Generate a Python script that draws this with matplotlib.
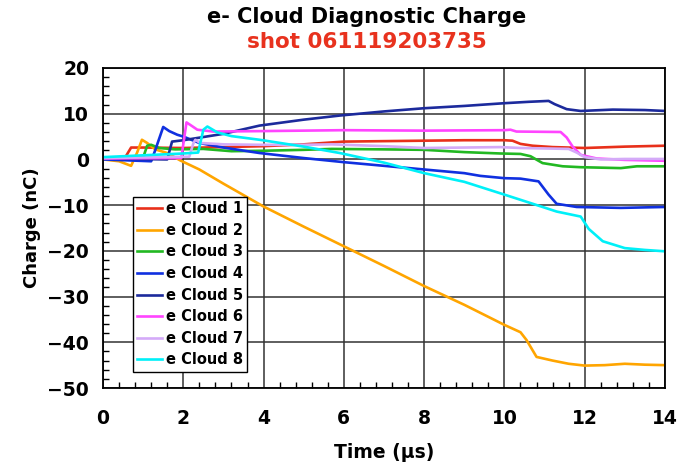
import matplotlib
matplotlib.use("Agg")
import matplotlib.pyplot as plt
from matplotlib.ticker import MultipleLocator

# time (us) / charge (nC) samples, one pair per cloud
t1 = [0, 0.55, 0.7, 1.0, 2.0, 3.0, 4.0, 5.0, 6.0, 7.0, 8.0, 9.0, 10.0, 10.2, 10.4, 10.7, 11.2, 12.0, 13.0, 14.0]
q1 = [0.3, 0.4, 2.6, 2.6, 2.5, 2.7, 2.9, 3.3, 3.9, 4.0, 4.1, 4.2, 4.2, 4.1, 3.4, 3.0, 2.7, 2.5, 2.8, 3.0]

t2 = [0, 0.4, 0.7, 0.85, 0.97, 1.1, 1.3, 1.6, 1.92, 2.4, 3.0, 4.0, 5.0, 6.0, 7.0, 8.0, 9.0, 10.0,
      10.2, 10.4, 10.55, 10.8, 11.2, 11.6, 12.0, 12.5, 13.0, 13.5, 14.0]
q2 = [0.0, -0.4, -1.4, 1.5, 4.3, 3.6, 2.2, 1.4, -0.2, -2.2, -5.3, -10.3, -14.7, -19.0, -23.3, -27.7, -31.8, -36.2,
      -37.0, -37.8, -39.5, -43.2, -44.0, -44.7, -45.1, -45.0, -44.7, -44.9, -45.0]

t3 = [0, 1.0, 1.1, 1.2, 1.4, 1.8, 2.5, 3.2, 4.0, 5.0, 5.7, 7.0, 8.0, 9.0, 9.9, 10.4, 10.65, 10.95,
      11.45, 11.9, 12.9, 13.3, 14.0]
q3 = [0.3, 0.4, 3.0, 3.2, 2.5, 2.2, 2.3, 1.8, 1.9, 2.1, 2.3, 2.2, 2.1, 1.6, 1.3, 1.2, 0.7, -0.8,
      -1.5, -1.7, -1.9, -1.5, -1.5]

t4 = [0, 1.2, 1.3, 1.5, 1.65, 1.85, 2.0, 2.4, 3.0, 3.9, 5.0, 6.0, 7.0, 8.0, 9.0, 9.4, 10.0, 10.4,
      10.85, 11.1, 11.3, 11.8, 12.9, 14.0]
q4 = [0.0, -0.4, 2.0, 7.1, 6.2, 5.4, 5.0, 3.6, 2.6, 1.4, 0.3, -0.6, -1.4, -2.2, -3.0, -3.6, -4.1, -4.2,
      -4.8, -7.7, -9.7, -10.4, -10.6, -10.4]

t5 = [0, 1.6, 1.72, 2.0, 3.0, 3.9, 5.0, 5.9, 7.0, 8.0, 9.0, 10.0, 10.6, 11.1, 11.25, 11.55, 11.9,
      12.7, 13.5, 14.0]
q5 = [0.2, 0.0, 3.9, 4.2, 5.6, 7.4, 8.7, 9.6, 10.5, 11.2, 11.7, 12.3, 12.6, 12.8, 12.1, 11.0, 10.6,
      10.9, 10.8, 10.6]

t6 = [0, 1.95, 2.08, 2.2, 2.35, 2.75, 4.0, 6.0, 8.0, 10.0, 10.15, 10.3, 11.4, 11.55, 11.7, 11.9,
      12.3, 13.0, 14.0]
q6 = [0.2, 0.3, 8.1, 7.4, 6.5, 6.1, 6.2, 6.4, 6.3, 6.4, 6.5, 6.1, 6.0, 4.8, 2.8, 1.0,
      0.2, -0.1, -0.3]

t7 = [0, 2.15, 2.25, 2.3, 2.42, 3.0, 3.9, 5.0, 5.7, 7.0, 8.0, 9.0, 9.9, 10.4, 11.6, 11.8, 12.0,
      12.4, 13.0, 14.0]
q7 = [0.3, 0.6, 3.5, 4.3, 3.6, 3.3, 3.2, 3.2, 3.3, 2.9, 2.5, 2.6, 2.7, 2.5, 2.3, 1.5, 0.5,
      0.0, 0.1, 0.1]

t8 = [0, 1.0, 2.0, 2.37, 2.5, 2.6, 2.85, 3.2, 3.9, 5.0, 5.9, 7.0, 8.0, 9.0, 9.5, 10.0, 10.6, 11.3,
      11.9, 12.1, 12.45, 13.0, 13.5, 14.0]
q8 = [0.5, 0.9, 1.3, 1.5, 6.5, 7.2, 5.9, 5.1, 4.3, 2.8, 1.4, -0.7, -3.0, -4.9, -6.3, -7.7, -9.4, -11.4,
      -12.5, -15.2, -17.9, -19.4, -19.8, -20.1]

labels = [f"e Cloud {i}" for i in range(1, 9)]
colors = ["#e8301a", "#ffa500", "#22b822", "#1030e0", "#1c2a9c", "#ff44ff", "#d4aaf8", "#00f0f8"]
series = [(t1, q1), (t2, q2), (t3, q3), (t4, q4), (t5, q5), (t6, q6), (t7, q7), (t8, q8)]

fig = plt.figure(figsize=(6.85, 4.65), dpi=100)
ax = fig.add_axes([103 / 685, 1 - 388 / 465, 562 / 685, 320 / 465])

for (t, q), c, lbl in zip(series, colors, labels):
    ax.plot(t, q, color=c, lw=1.9, label=lbl)

ax.set_xlim(0, 14); ax.set_ylim(-50, 20)
ax.xaxis.set_major_locator(MultipleLocator(2)); ax.xaxis.set_minor_locator(MultipleLocator(0.4))
ax.yaxis.set_major_locator(MultipleLocator(10)); ax.yaxis.set_minor_locator(MultipleLocator(2))
ax.grid(True, which="major", color="#333333", lw=1.1)
ax.set_axisbelow(True)
ax.tick_params(which="both", direction="in", top=False, right=False)
ax.tick_params(which="major", length=0, labelsize=13.5, pad=10)
ax.tick_params(which="minor", length=4, width=1)
ax.tick_params(axis="x", which="major", pad=15)
for lab in ax.get_xticklabels() + ax.get_yticklabels():
    lab.set_fontweight("bold")
for s in ax.spines.values():
    s.set_linewidth(1.3)

fig.text(384 / 685, 1 - 452 / 465, "Time (µs)", ha="center", va="center", fontsize=13.5, fontweight="bold")
fig.text(32 / 685, 1 - 228 / 465, "Charge (nC)", ha="center", va="center", rotation=90,
         fontsize=13, fontweight="bold")
fig.text(367 / 685, 1 - 17 / 465, "e- Cloud Diagnostic Charge", ha="center", va="center",
         fontsize=15, fontweight="bold")
fig.text(367 / 685, 1 - 42 / 465, "shot 061119203735", ha="center", va="center",
         fontsize=15.5, fontweight="bold", color="#e8321e")

leg = ax.legend(loc="upper left", bbox_to_anchor=(133 / 685, 1 - 197 / 465),
                bbox_transform=fig.transFigure, borderaxespad=0, fancybox=False,
                framealpha=1, edgecolor="black", prop={"weight": "bold", "size": 10.5},
                handlelength=1.7, handletextpad=0.25, labelspacing=0.45, borderpad=0.3)
leg.get_frame().set_linewidth(1.0)

fig.savefig("out.png", dpi=100)
